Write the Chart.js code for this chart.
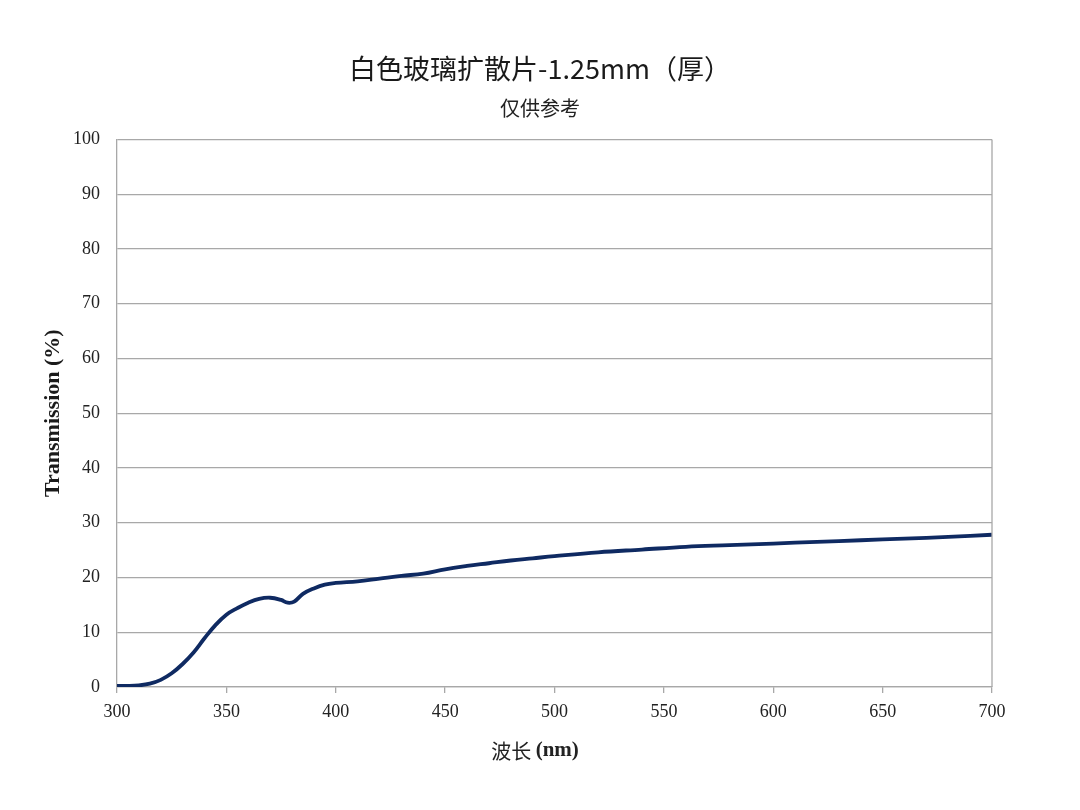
<!DOCTYPE html>
<html>
<head>
<meta charset="utf-8">
<script src="https://cdn.jsdelivr.net/npm/chart.js@4.4.1/dist/chart.umd.min.js"></script>
<style>
  html, body { margin: 0; padding: 0; background: #fff; }
  #wrap { width: 1080px; height: 810px; }
</style>
</head>
<body>
<div id="wrap"><canvas id="transChart" width="1080" height="810"></canvas></div>
<script>
// Data
const wavelengths = [300, 305, 310, 315, 320, 325, 330, 335, 340, 345, 350, 355, 360, 365, 370, 375, 378, 381, 385, 390, 395, 400,
    410, 420, 430, 440, 450, 460, 470, 480, 490, 500, 520, 540, 560, 580, 600, 620, 640, 660, 680, 700];
const transmission = [0.2, 0.2, 0.3, 0.6, 1.3, 2.5, 4.2, 6.3, 8.9, 11.3, 13.2, 14.4, 15.4, 16.1, 16.3, 15.9, 15.4, 15.6, 17.0, 18.0, 18.7, 19.0,
    19.3, 19.8, 20.3, 20.7, 21.5, 22.1, 22.6, 23.1, 23.5, 23.9, 24.6, 25.1, 25.6, 25.9, 26.2, 26.5, 26.8, 27.1, 27.4, 27.8];
const xTicks = [300, 350, 400, 450, 500, 550, 600, 650, 700];
const yTicks = [0, 10, 20, 30, 40, 50, 60, 70, 80, 90, 100];

const gridGray = '#a8a8a8';
const lineNavy = '#0f2a62';
const serif = "'Liberation Serif', 'Times New Roman', serif";
const cjk = "'Noto Sans CJK SC', 'Noto Sans', sans-serif";

// right border + mixed-font x axis title
const framePlugin = {
    id: 'frame',
    afterDraw(chart) {
        const { ctx, chartArea } = chart;
        ctx.save();
        ctx.strokeStyle = gridGray;
        ctx.lineWidth = 1.3;
        ctx.beginPath();
        ctx.moveTo(chartArea.right, chartArea.top);
        ctx.lineTo(chartArea.right, chartArea.bottom);
        ctx.stroke();

        // 波长 (nm)
        const part1 = '波长 ';
        const part2 = '(nm)';
        ctx.fillStyle = '#222';
        ctx.textBaseline = 'middle';
        ctx.font = "20px " + cjk;
        const w1 = ctx.measureText(part1).width;
        ctx.font = "bold 21px " + serif;
        const w2 = ctx.measureText(part2).width;
        const cx = 535;
        const cy = 751;
        let x = cx - (w1 + w2) / 2;
        ctx.textAlign = 'left';
        ctx.font = "20px " + cjk;
        ctx.fillText(part1, x, cy);
        ctx.font = "bold 21px " + serif;
        ctx.fillText(part2, x + w1, cy);
        ctx.restore();
    }
};

const ctx = document.getElementById('transChart').getContext('2d');

new Chart(ctx, {
    type: 'line',
    data: {
        labels: wavelengths,
        datasets: [{
            label: 'Transmission',
            data: wavelengths.map((w, i) => ({ x: w, y: transmission[i] })),
            borderColor: lineNavy,
            borderWidth: 3.8,
            pointRadius: 0,
            fill: false,
            tension: 0.4
        }]
    },
    options: {
        responsive: false,
        animation: false,
        layout: { padding: 0 },
        plugins: {
            legend: { display: false },
            tooltip: { enabled: false },
            title: {
                display: true,
                text: '白色玻璃扩散片-1.25mm（厚）',
                color: '#1a1a1a',
                font: { family: cjk, size: 27, weight: 'normal', lineHeight: 1.2 },
                padding: { top: 53, bottom: 5 }
            },
            subtitle: {
                display: true,
                text: '仅供参考',
                color: '#222',
                font: { family: cjk, size: 20, weight: 'normal', lineHeight: 1.2 },
                padding: { top: 6, bottom: 19 }
            }
        },
        scales: {
            x: {
                type: 'linear',
                min: 300,
                max: 700,
                afterBuildTicks: (scale) => { scale.ticks = xTicks.map(v => ({ value: v })); },
                afterFit: (scale) => { scale.height = 123; },
                grid: {
                    display: true,
                    drawOnChartArea: false,
                    drawTicks: true,
                    tickLength: 6,
                    color: gridGray,
                    lineWidth: 1.3
                },
                border: { display: true, color: gridGray, width: 1.3 },
                ticks: {
                    color: '#222',
                    padding: 8,
                    maxRotation: 0,
                    font: { family: serif, size: 18 }
                }
            },
            y: {
                min: 0,
                max: 100,
                afterBuildTicks: (scale) => { scale.ticks = yTicks.map(v => ({ value: v })); },
                afterFit: (scale) => { scale.width = 117; },
                grid: {
                    color: gridGray,
                    lineWidth: 1.3,
                    drawTicks: false
                },
                border: { display: true, color: gridGray, width: 1.3 },
                ticks: {
                    color: '#222',
                    padding: 17,
                    font: { family: serif, size: 18 }
                },
                title: {
                    display: true,
                    text: 'Transmission (%)',
                    color: '#1a1a1a',
                    font: { family: serif, size: 22, weight: 'bold', lineHeight: 1.2 },
                    padding: { top: 40, bottom: 0 }
                }
            },
            // empty right-hand gutter so the titles stay centred on the page
            yRight: {
                position: 'right',
                min: 0,
                max: 100,
                afterFit: (scale) => { scale.width = 88; },
                grid: { display: false, drawTicks: false },
                border: { display: false },
                ticks: { display: false }
            }
        }
    },
    plugins: [framePlugin]
});
</script>
</body>
</html>
